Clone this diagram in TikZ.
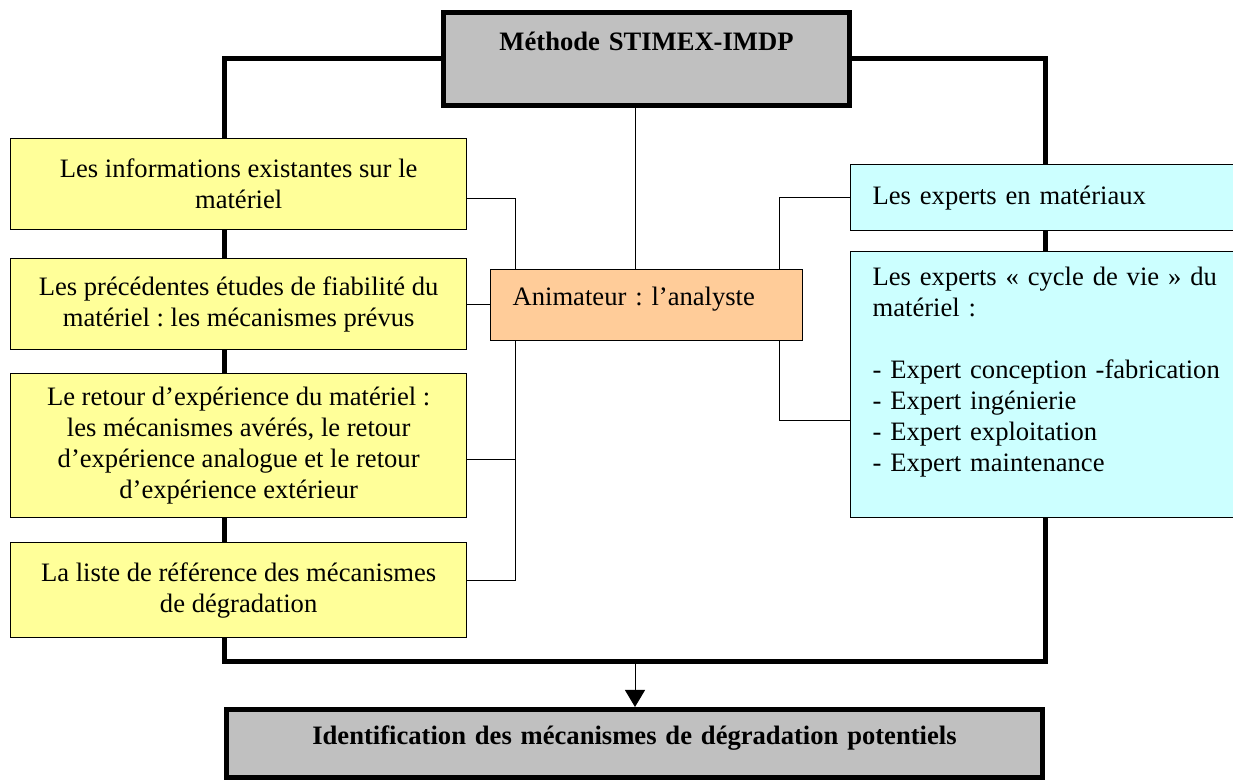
\documentclass[tikz,border=0pt]{standalone}
\usepackage{fontspec}
\setmainfont{Liberation Serif}
\usetikzlibrary{arrows.meta}
\definecolor{headgray}{HTML}{C0C0C0}
\definecolor{infoyellow}{HTML}{FFFF99}
\definecolor{expertcyan}{HTML}{CCFFFF}
\definecolor{animorange}{HTML}{FFCC99}
\tikzset{basic/.style={draw,line width=0.65pt,anchor=north west,font=\fontsize{13.3pt}{15.5pt}\selectfont\frenchspacing}}
\tikzset{heading/.style={basic,line width=2.5pt,fill=headgray,inner sep=0pt,align=center,font=\fontsize{13.3pt}{15.5pt}\selectfont\frenchspacing\bfseries}}
\tikzset{sources/.style={basic,fill=infoyellow,minimum width=228pt,align=center}}
\tikzset{experts/.style={basic,fill=expertcyan,inner xsep=11pt,inner ysep=0pt,text width=175pt,align=left}}
\tikzset{animator/.style={basic,fill=animorange,inner xsep=11pt,inner ysep=0pt,text width=134pt,align=left}}
\tikzset{bold/.style={line width=2.5pt}}
\tikzset{link/.style={line width=0.5pt}}

\begin{document}
\begin{tikzpicture}[x=0.5pt,y=-0.5pt]
    \useasboundingbox (0,0) rectangle (1233,780);

    % method on top, result at the bottom
    \node[heading,text width=203pt,text height=19pt,text depth=27.5pt] (method) at (441,10) {Méthode STIMEX-IMDP};
    \node[heading,text width=408pt,text height=17.75pt,text depth=16.25pt] (result) at (224,707) {Identification des mécanismes de dégradation potentiels};

    % sources of information
    \node[sources,minimum height=45.5pt] (info) at (10,138) {Les informations existantes sur le\\matériel};
    \node[sources,minimum height=45.5pt] (studies) at (10,258) {Les précédentes études de fiabilité du\\matériel~: les mécanismes prévus};
    \node[sources,minimum height=72pt] (feedback) at (10,373) {Le retour d’expérience du matériel~:\\les mécanismes avérés, le retour\\d’expérience analogue et le retour\\d’expérience extérieur};
    \node[sources,minimum height=47.5pt] (list) at (10,542) {La liste de référence des mécanismes\\de dégradation};

    \node[animator,text height=18pt,text depth=17.5pt] (anim) at (490,269) {Animateur~: l’analyste};

    % experts
    \node[experts,minimum height=33pt] (materials) at (850,164) {Les experts en matériaux};
    \node[experts,text height=17pt,text depth=116pt] (lifecycle) at (850,251) {Les experts «~cycle de vie~» du\\matériel~:\\[15.5pt]- Expert conception -fabrication\\- Expert ingénierie\\- Expert exploitation\\- Expert maintenance};

    \coordinate (merge) at (635,662);
    \coordinate (lbar) at (515,0);
    \coordinate (rbar) at (779,0);

    % thick frame
    \draw[bold] (method.west) -| (info.north -| result.west);
    \draw[bold] (info.south -| result.west) -- (studies.north -| result.west);
    \draw[bold] (studies.south -| result.west) -- (feedback.north -| result.west);
    \draw[bold] (feedback.south -| result.west) -- (list.north -| result.west);
    \draw[bold] (list.south -| result.west) |- (merge) -| (lifecycle.south -| result.east);
    \draw[bold] (lifecycle.north -| result.east) -- (materials.south -| result.east);
    \draw[bold] (method.east) -| (materials.north -| result.east);
    \draw[link,-{Triangle[width=10pt,length=8.5pt]}] (merge) -- (result.north -| merge);

    % thin links to the animator
    \draw[link] (method.south -| merge) -- (anim.north -| merge);
    \draw[link] ([yshift=-7pt]info.east) -| (anim.north -| lbar);
    \draw[link] (studies.east) -- (studies.east -| anim.west);
    \draw[link] ([yshift=-7pt]feedback.east) -- ([yshift=-7pt]feedback.east -| lbar);
    \draw[link] (anim.south -| lbar) |- ([yshift=5pt]list.east);
    \draw[link] (materials.west) -| (anim.north -| rbar);
    \draw[link] (anim.south -| rbar) |- ([yshift=-18pt]lifecycle.west);
\end{tikzpicture}
\end{document}
